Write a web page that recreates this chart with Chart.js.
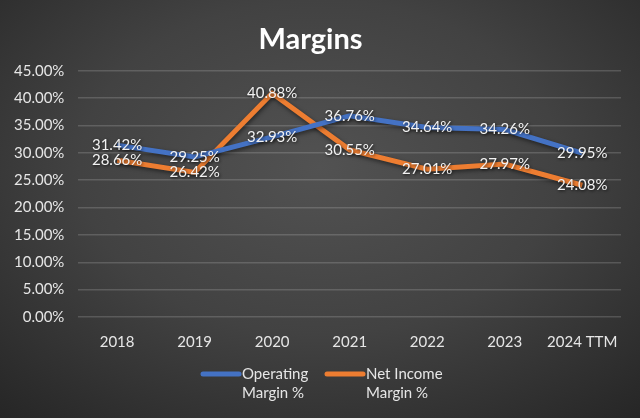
<!DOCTYPE html>
<html>
<head>
<meta charset="utf-8">
<script src="https://cdn.jsdelivr.net/npm/chart.js@4"></script>
<style>
  html, body { margin: 0; padding: 0; background: #f2f2f2; }
  #wrap {
    width: 640px; height: 418px; position: relative;
    background: radial-gradient(ellipse 75% 80% at 50% 40%, #525252 0%, #424242 50%, #262626 100%);
  }
</style>
</head>
<body>
<div id="wrap"><canvas id="margins-chart"></canvas></div>
<script>
const years = ["2018", "2019", "2020", "2021", "2022", "2023", "2024 TTM"];
const operatingMargin = [31.42, 29.25, 32.93, 36.76, 34.64, 34.26, 29.95];
const netIncomeMargin = [28.66, 26.42, 40.88, 30.55, 27.01, 27.97, 24.08];
const seriesNames = [["Operating", "Margin %"], ["Net Income", "Margin %"]];
const seriesColors = ["#4472C4", "#ED7D31"];

const fontFamily = "Lato, 'Open Sans', sans-serif";

// white labels sitting on top of each point
const pointLabels = {
  id: "pointLabels",
  afterDatasetsDraw(chart) {
    const ctx = chart.ctx;
    ctx.save();
    ctx.font = "15px " + fontFamily;
    ctx.fillStyle = "#f2f2f2";
    ctx.textAlign = "center";
    ctx.textBaseline = "middle";
    ctx.shadowColor = "rgba(0,0,0,0.7)";
    ctx.shadowBlur = 3;
    ctx.shadowOffsetX = 1;
    ctx.shadowOffsetY = 1;
    chart.data.datasets.forEach((ds, i) => {
      chart.getDatasetMeta(i).data.forEach((pt, j) => {
        ctx.fillText(ds.data[j].toFixed(2) + "%", pt.x, pt.y);
      });
    });
    ctx.restore();
  }
};

// line shadows like the office chart
const lineShadow = {
  id: "lineShadow",
  beforeDatasetsDraw(chart) {
    const ctx = chart.ctx;
    ctx.save();
    ctx.shadowColor = "rgba(0,0,0,0.5)";
    ctx.shadowBlur = 4;
    ctx.shadowOffsetX = 1;
    ctx.shadowOffsetY = 2;
  },
  afterDatasetsDraw(chart) {
    chart.ctx.restore();
  }
};

// legend with two-line names, drawn under the axis
const twoLineLegend = {
  id: "twoLineLegend",
  afterDraw(chart) {
    const ctx = chart.ctx;
    ctx.save();
    ctx.font = "15px " + fontFamily;
    ctx.fillStyle = "#e6e6e6";
    ctx.textBaseline = "middle";
    ctx.lineWidth = 5;
    ctx.lineCap = "round";
    const starts = [203, 327];
    seriesNames.forEach((name, i) => {
      const x = starts[i];
      ctx.strokeStyle = seriesColors[i];
      ctx.beginPath();
      ctx.moveTo(x, 374);
      ctx.lineTo(x + 36, 374);
      ctx.stroke();
      ctx.fillText(name[0], x + 39, 374);
      ctx.fillText(name[1], x + 39, 393);
    });
    ctx.restore();
  }
};

const marginsCanvas = document.getElementById("margins-chart");

new Chart(marginsCanvas, {
  type: "line",
  data: {
    labels: years,
    datasets: [
      {
        label: seriesNames[0].join(" "),
        data: operatingMargin,
        borderColor: seriesColors[0],
        backgroundColor: seriesColors[0],
        borderWidth: 5,
        pointRadius: 0,
        tension: 0
      },
      {
        label: seriesNames[1].join(" "),
        data: netIncomeMargin,
        borderColor: seriesColors[1],
        backgroundColor: seriesColors[1],
        borderWidth: 5,
        pointRadius: 0,
        tension: 0
      }
    ]
  },
  options: {
    responsive: true,
    maintainAspectRatio: false,
    animation: false,
    layout: { padding: { left: 0, right: 19, top: 6, bottom: 59 } },
    plugins: {
      legend: { display: false },
      tooltip: { enabled: false },
      title: {
        display: true,
        text: "Margins",
        color: "#ffffff",
        font: { family: fontFamily, size: 29, weight: "bold" },
        padding: { top: 16, bottom: 14 }
      }
    },
    scales: {
      x: {
        offset: true,
        grid: { display: false },
        border: { display: false },
        ticks: { color: "#e6e6e6", font: { family: fontFamily, size: 15 }, padding: 8, maxRotation: 0 }
      },
      y: {
        min: 0,
        max: 45,
        grid: { color: "rgba(255,255,255,0.16)", lineWidth: 1.5, drawTicks: false },
        border: { display: false },
        ticks: {
          stepSize: 5,
          color: "#e6e6e6",
          padding: 14,
          font: { family: fontFamily, size: 15 },
          callback: (v) => v.toFixed(2) + "%"
        }
      }
    }
  },
  plugins: [lineShadow, pointLabels, twoLineLegend]
});
</script>
</body>
</html>
